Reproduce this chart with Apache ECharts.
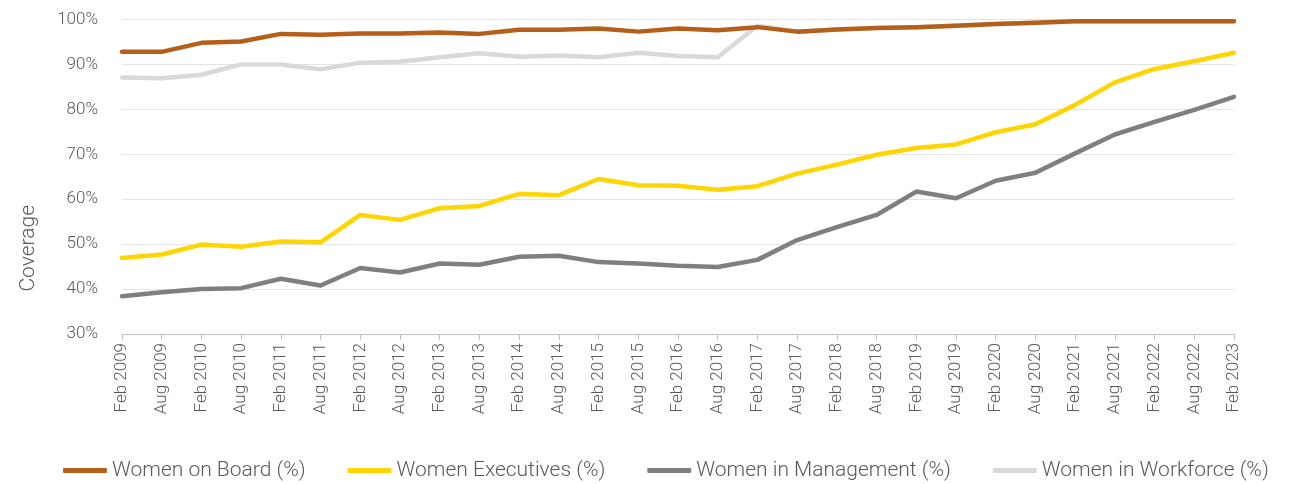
<!DOCTYPE html>
<html>
<head>
<meta charset="utf-8">
<script src="https://cdn.jsdelivr.net/npm/echarts@6/dist/echarts.min.js"></script>
<style>
  html, body { margin: 0; padding: 0; background: #fff; }
  #main { width: 1290px; height: 484px; }
</style>
</head>
<body>
<div id="main"></div>
<script>
// categories (half-yearly)
var categories = ['Feb 2009','Aug 2009','Feb 2010','Aug 2010','Feb 2011','Aug 2011','Feb 2012','Aug 2012',
  'Feb 2013','Aug 2013','Feb 2014','Aug 2014','Feb 2015','Aug 2015','Feb 2016','Aug 2016','Feb 2017',
  'Aug 2017','Feb 2018','Aug 2018','Feb 2019','Aug 2019','Feb 2020','Aug 2020','Feb 2021','Aug 2021',
  'Feb 2022','Aug 2022','Feb 2023'];

var board = [92.8,92.8,94.8,95.1,96.8,96.6,96.9,96.9,97.1,96.8,97.7,97.7,98.0,97.3,98.0,97.6,98.3,
  97.3,97.8,98.1,98.3,98.6,99.0,99.3,99.6,99.6,99.6,99.6,99.6];
var executives = [46.9,47.7,49.9,49.4,50.6,50.4,56.5,55.4,58.0,58.5,61.2,60.9,64.5,63.1,63.0,62.1,62.9,
  65.7,67.7,69.9,71.4,72.2,74.9,76.7,81.0,86.0,89.0,90.7,92.6];
var management = [38.4,39.3,40.0,40.2,42.3,40.8,44.7,43.7,45.7,45.4,47.2,47.4,46.0,45.7,45.2,44.9,46.5,
  50.9,53.8,56.5,61.7,60.2,64.1,65.9,70.2,74.4,77.2,79.9,82.8];
var workforce = [87.1,86.9,87.7,90.0,90.0,88.9,90.4,90.6,91.6,92.5,91.7,92.0,91.6,92.6,91.9,91.6,98.6,
  97.3,97.8,98.1,98.3,98.6,99.0,99.3,99.6,99.6,99.6,99.6,99.6];

var yTicks = { min: 30, max: 100, interval: 10 };

var txt = '#595959';
var font = 'Roboto';

function lineSeries(name, data, color, z) {
  return {
    name: name,
    type: 'line',
    data: data,
    symbol: 'none',
    z: z,
    lineStyle: { color: color, width: 4.5, cap: 'round', join: 'round' },
    itemStyle: { color: color }
  };
}

var chart = echarts.init(document.getElementById('main'));
chart.setOption({
  animation: false,
  textStyle: { fontFamily: font },
  grid: { left: 122, right: 56, top: 19.5, bottom: 150 },
  legend: {
    left: 58,
    top: 455,
    itemWidth: 44,
    itemHeight: 5,
    itemGap: 42,
    icon: 'roundRect',
    textStyle: { fontFamily: font, fontSize: 21, color: txt, fontWeight: 300 },
    data: ['Women on Board (%)', 'Women Executives (%)', 'Women in Management (%)', 'Women in Workforce (%)']
  },
  xAxis: {
    type: 'category',
    data: categories,
    boundaryGap: false,
    axisLine: { lineStyle: { color: '#bfbfbf', width: 1 } },
    axisTick: { show: true, length: 6, lineStyle: { color: '#bfbfbf' } },
    axisLabel: { rotate: 90, margin: 9, fontSize: 17, color: txt, fontWeight: 300, interval: 0 }
  },
  yAxis: {
    type: 'value',
    min: yTicks.min,
    max: yTicks.max,
    interval: yTicks.interval,
    axisLine: { show: false },
    axisTick: { show: false },
    splitLine: { lineStyle: { color: '#e4e4e4', width: 1 } },
    axisLabel: { formatter: '{value}%', margin: 24, fontSize: 17, color: txt, fontWeight: 300 }
  },
  graphic: [{
    type: 'text',
    left: 18,
    top: 205,
    rotation: Math.PI / 2,
    style: { text: 'Coverage', font: '300 21px Roboto', fill: txt }
  }],
  series: [
    lineSeries('Women in Workforce (%)', workforce, '#d9d9d9', 1),
    lineSeries('Women in Management (%)', management, '#7f7f7f', 2),
    lineSeries('Women Executives (%)', executives, '#ffd500', 3),
    lineSeries('Women on Board (%)', board, '#b5601a', 4)
  ]
});
</script>
</body>
</html>
